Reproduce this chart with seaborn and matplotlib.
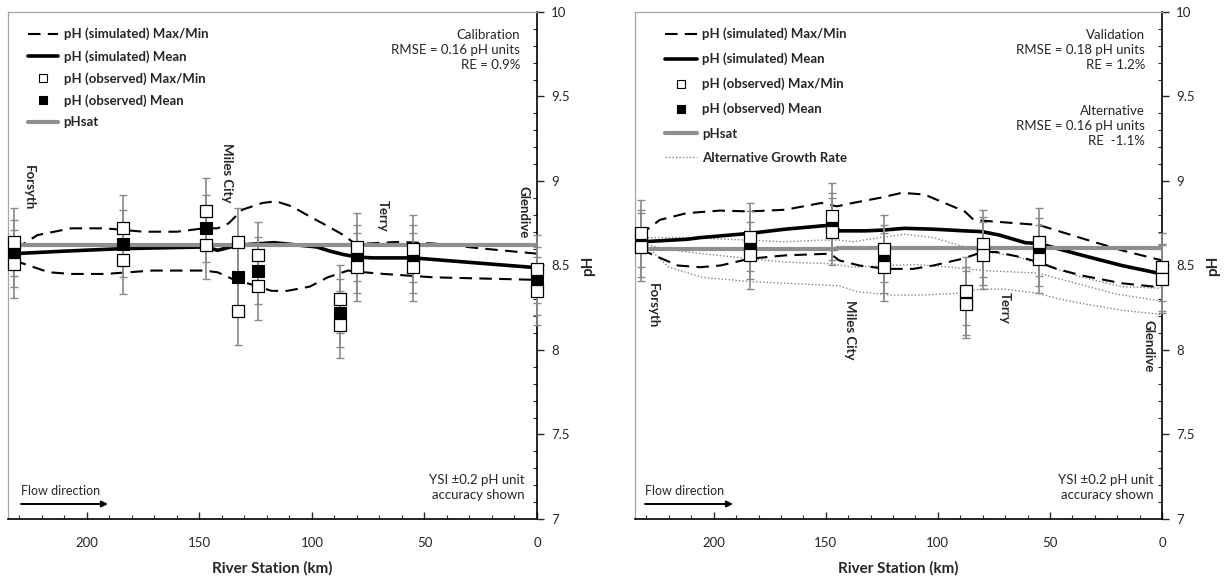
import numpy as np
import pandas as pd
import matplotlib
matplotlib.use("Agg")
import matplotlib.pyplot as plt
from matplotlib.lines import Line2D
from matplotlib.ticker import MultipleLocator, FuncFormatter
import seaborn as sns

sns.set_style("white")
plt.rcParams['font.family'] = ['Lato', 'DejaVu Sans']

# ---------------- Calibration panel data ----------------
cal_mean_km = [232.5, 210, 184, 165, 147, 142, 133, 117, 98, 92, 86, 80, 73, 55, 3, 0]
cal_mean_ph = [8.57, 8.585, 8.60, 8.605, 8.61, 8.59, 8.62, 8.635, 8.61, 8.585, 8.565, 8.55, 8.545, 8.545, 8.49, 8.49]

cal_max_km = [232.5, 228, 222, 207, 192, 175, 160, 148, 142, 137, 131, 122, 116, 109, 101, 94, 86, 81, 75.7, 61, 46, 24, 0]
cal_max_ph = [8.61, 8.63, 8.68, 8.72, 8.72, 8.70, 8.70, 8.72, 8.72, 8.75, 8.83, 8.87, 8.88, 8.85, 8.79, 8.74, 8.68, 8.63, 8.63, 8.64, 8.63, 8.60, 8.57]

cal_min_km = [232.5, 228, 217, 207, 192, 171, 148, 142, 134.5, 126, 118, 111, 101, 93, 84, 77, 68, 46, 0]
cal_min_ph = [8.53, 8.51, 8.46, 8.45, 8.45, 8.47, 8.47, 8.46, 8.415, 8.385, 8.35, 8.35, 8.375, 8.43, 8.47, 8.46, 8.45, 8.43, 8.415]

cal_sat_km = [235.1, 0]
cal_sat_ph = [8.62, 8.62]

cal_obs_km = [232.5, 184, 147, 133, 124, 87.6, 80, 55, 0]
cal_obs_max = [8.64, 8.72, 8.82, 8.64, 8.56, 8.30, 8.61, 8.60, 8.48]
cal_obs_mean = [8.57, 8.63, 8.72, 8.43, 8.47, 8.22, 8.54, 8.54, 8.41]
cal_obs_min = [8.51, 8.53, 8.62, 8.23, 8.38, 8.15, 8.49, 8.49, 8.35]

# ---------------- Validation panel data ----------------
val_mean_km = [232.5, 212, 206, 184, 168, 147, 144, 132, 124, 115, 102, 88, 80, 72.6, 61, 55, 35.5, 18, 0]
val_mean_ph = [8.64, 8.655, 8.665, 8.69, 8.715, 8.74, 8.705, 8.705, 8.71, 8.72, 8.715, 8.705, 8.70, 8.68, 8.635, 8.63, 8.56, 8.50, 8.45]

val_max_km = [232.5, 230, 224, 212, 197, 184, 168, 152, 145, 138, 126, 116, 106, 97, 88, 84, 80, 65, 55, 35.5, 18, 0]
val_max_ph = [8.67, 8.71, 8.77, 8.81, 8.825, 8.82, 8.83, 8.87, 8.85, 8.87, 8.90, 8.93, 8.92, 8.87, 8.82, 8.77, 8.765, 8.75, 8.74, 8.66, 8.59, 8.53]

val_min_km = [232.5, 230, 216, 206, 197, 184, 168, 148, 144, 135, 123, 111, 102, 89, 80, 74, 65, 55, 47, 35.5, 18, 0]
val_min_ph = [8.60, 8.58, 8.50, 8.49, 8.50, 8.54, 8.56, 8.57, 8.53, 8.50, 8.48, 8.48, 8.50, 8.54, 8.58, 8.58, 8.555, 8.52, 8.48, 8.44, 8.395, 8.37]

alt_up_km = [232.5, 212, 184, 168, 152, 144, 138, 126, 115, 102, 88, 78, 65, 55, 35.5, 18, 0]
alt_up_ph = [8.665, 8.665, 8.65, 8.64, 8.65, 8.65, 8.64, 8.665, 8.685, 8.665, 8.61, 8.58, 8.555, 8.51, 8.43, 8.375, 8.365]

alt_mid_km = [232.5, 222, 212, 184, 168, 147, 138, 123, 109, 94, 80, 55, 40, 20, 0]
alt_mid_ph = [8.63, 8.60, 8.58, 8.54, 8.52, 8.51, 8.49, 8.50, 8.505, 8.49, 8.47, 8.455, 8.40, 8.33, 8.29]

alt_low_km = [232.5, 228, 220, 205, 184, 168, 144, 136, 121, 107, 92, 81, 70, 55, 47, 35.5, 18, 0]
alt_low_ph = [8.62, 8.59, 8.49, 8.43, 8.405, 8.395, 8.38, 8.345, 8.325, 8.325, 8.335, 8.36, 8.36, 8.335, 8.305, 8.275, 8.235, 8.21]

val_sat_km = [235.1, 145, 145, 0]
val_sat_ph = [8.597, 8.597, 8.603, 8.603]

val_obs_km = [232.5, 184, 147, 124, 87.5, 80, 55, 0]
val_obs_max = [8.69, 8.67, 8.79, 8.60, 8.35, 8.63, 8.64, 8.49]
val_obs_mean = [8.63, 8.62, 8.73, 8.54, 8.29, 8.585, 8.58, 8.43]
val_obs_min = [8.61, 8.56, 8.70, 8.49, 8.27, 8.56, 8.54, 8.42]

ysi_accuracy = 0.2

cal_stations = [("Forsyth", 226, 9.095, 'top'), ("Miles City", 137.8, 9.225, 'top'),
                ("Terry", 68.4, 8.70, 'bottom'), ("Glendive", 6.2, 8.663, 'bottom')]
val_stations = [("Forsyth", 227, 8.396, 'top'), ("Miles City", 139, 8.296, 'top'),
                ("Terry", 70, 8.343, 'top'), ("Glendive", 5.8, 8.178, 'top')]

DASH = (0, (6, 3.5))
DOT = (0, (1, 1.5))
SAT_COLOR = '#8f8f8f'
ERR_COLOR = '#8a8a8a'
ALT_COLOR = '#858585'
FS = 9.5

W, H = 1225, 581
fig = plt.figure(figsize=(W / 100, H / 100), dpi=100)
axL = fig.add_axes([8 / W, 1 - 519 / H, (537 - 8) / W, (519 - 12) / H])
axR = fig.add_axes([635 / W, 1 - 519 / H, (1162 - 635) / W, (519 - 12) / H])


def line(ax, km, ph, **kw):
    df = pd.DataFrame({"km": km, "ph": ph})
    sns.lineplot(data=df, x="km", y="ph", ax=ax, sort=False, estimator=None, **kw)


def observed(ax, km, vmax, vmean, vmin):
    for vals in (vmax, vmean, vmin):
        ax.errorbar(km, vals, yerr=ysi_accuracy, fmt='none', ecolor=ERR_COLOR,
                    elinewidth=1.2, capsize=3, capthick=1.0, zorder=4, clip_on=False)
    sns.scatterplot(x=km, y=vmean, ax=ax, marker='s', s=85, color='black',
                    edgecolor='black', linewidth=0.8, zorder=5, clip_on=False)
    for vals in (vmax, vmin):
        sns.scatterplot(x=km, y=vals, ax=ax, marker='s', s=85, color='white',
                        edgecolor='black', linewidth=0.9, zorder=6, clip_on=False)


def style_axes(ax, ylab_x):
    ax.set_xlim(235.1, 0)
    ax.set_ylim(7, 10)
    ax.yaxis.tick_right()
    ax.xaxis.set_major_locator(MultipleLocator(50))
    ax.xaxis.set_minor_locator(MultipleLocator(10))
    ax.yaxis.set_major_locator(MultipleLocator(0.5))
    ax.yaxis.set_minor_locator(MultipleLocator(0.1))
    ax.yaxis.set_major_formatter(FuncFormatter(lambda v, p: f"{v:g}"))
    ax.tick_params(axis='x', which='major', direction='in', length=5, width=1,
                   labelsize=FS, pad=13, bottom=True)
    ax.tick_params(axis='x', which='minor', direction='in', length=3, width=0.8, bottom=True)
    ax.tick_params(axis='y', which='major', direction='out', length=5, width=1,
                   labelsize=FS, pad=5, right=True, left=False)
    ax.tick_params(axis='y', which='minor', direction='in', length=3, width=0.8,
                   right=True, left=False)
    for s in ('left', 'top'):
        ax.spines[s].set_color('#a6a6a6')
        ax.spines[s].set_linewidth(0.9)
    for s in ('right', 'bottom'):
        ax.spines[s].set_color('black')
        ax.spines[s].set_linewidth(1.2)
    ax.set_xlabel("River Station (km)", fontsize=11, fontweight='bold')
    ax.xaxis.set_label_coords(0.5, -0.0966)
    ax.xaxis.label.set_va('center')
    ax.yaxis.set_label_position('right')
    ax.set_ylabel("pH", fontsize=11, fontweight='bold', rotation=90)
    ax.yaxis.set_label_coords(ylab_x, 0.5)
    ax.yaxis.label.set_va('center')
    ax.yaxis.label.set_ha('center')
    ax.grid(False)


def stations(ax, items):
    for name, km, ph, va in items:
        ax.text(km, ph, name, rotation=270, ha='center', va=va, fontsize=FS,
                fontweight='bold', zorder=7)


def flow(ax, x0, x1):
    ax.text(x0, 0.055, "Flow direction", transform=ax.transAxes, ha='left',
            va='center', fontsize=FS - 0.5)
    ax.annotate('', xy=(x1, 0.0296), xytext=(x0, 0.0296), xycoords='axes fraction',
                arrowprops=dict(arrowstyle='-|>', color='black', lw=1.4,
                                mutation_scale=9, shrinkA=0, shrinkB=0))


# ---------------- Left: calibration ----------------
line(axL, cal_max_km, cal_max_ph, color='black', lw=1.5, linestyle=DASH, zorder=2)
line(axL, cal_min_km, cal_min_ph, color='black', lw=1.5, linestyle=DASH, zorder=2)
line(axL, cal_mean_km, cal_mean_ph, color='black', lw=2.6, zorder=2)
line(axL, cal_sat_km, cal_sat_ph, color=SAT_COLOR, lw=3.0, zorder=3)
observed(axL, cal_obs_km, cal_obs_max, cal_obs_mean, cal_obs_min)
style_axes(axL, 1.096)
stations(axL, cal_stations)
flow(axL, 0.0246, 0.189)
axL.text(0.968, 0.925, "Calibration\nRMSE = 0.16 pH units\nRE = 0.9%", transform=axL.transAxes,
         ha='right', va='center', multialignment='right', linespacing=1.3, fontsize=FS)
axL.text(0.977, 0.062, "YSI \u00b10.2 pH unit\naccuracy shown", transform=axL.transAxes,
         ha='right', va='center', multialignment='right', linespacing=1.3, fontsize=FS)

legL_handles = [
    Line2D([], [], color='black', lw=1.5, linestyle=DASH),
    Line2D([], [], color='black', lw=2.6),
    Line2D([], [], marker='s', ls='none', mfc='white', mec='black', ms=6, mew=0.8),
    Line2D([], [], marker='s', ls='none', mfc='black', mec='black', ms=6, mew=0.8),
    Line2D([], [], color=SAT_COLOR, lw=3.0),
]
legL_labels = ["pH (simulated) Max/Min", "pH (simulated) Mean", "pH (observed) Max/Min",
               "pH (observed) Mean", "pHsat"]
axL.legend(legL_handles, legL_labels, loc='upper left', bbox_to_anchor=(0.038, 0.969),
           frameon=False, prop={'weight': 'bold', 'size': 9.5}, handlelength=2.3,
           handletextpad=0.4, labelspacing=0.72, borderaxespad=0, borderpad=0)

# ---------------- Right: validation ----------------
line(axR, alt_up_km, alt_up_ph, color=ALT_COLOR, lw=1.0, linestyle=DOT, zorder=2)
line(axR, alt_mid_km, alt_mid_ph, color=ALT_COLOR, lw=1.0, linestyle=DOT, zorder=2)
line(axR, alt_low_km, alt_low_ph, color=ALT_COLOR, lw=1.0, linestyle=DOT, zorder=2)
line(axR, val_max_km, val_max_ph, color='black', lw=1.5, linestyle=DASH, zorder=2)
line(axR, val_min_km, val_min_ph, color='black', lw=1.5, linestyle=DASH, zorder=2)
line(axR, val_mean_km, val_mean_ph, color='black', lw=2.6, zorder=2)
line(axR, val_sat_km, val_sat_ph, color=SAT_COLOR, lw=3.0, zorder=3)
observed(axR, val_obs_km, val_obs_max, val_obs_mean, val_obs_min)
style_axes(axR, 1.097)
stations(axR, val_stations)
flow(axR, 0.019, 0.186)
axR.text(0.968, 0.925, "Validation\nRMSE = 0.18 pH units\nRE = 1.2%", transform=axR.transAxes,
         ha='right', va='center', multialignment='right', linespacing=1.3, fontsize=FS)
axR.text(0.968, 0.775, "Alternative\nRMSE = 0.16 pH units\nRE  -1.1%", transform=axR.transAxes,
         ha='right', va='center', multialignment='right', linespacing=1.3, fontsize=FS)
axR.text(0.985, 0.062, "YSI \u00b10.2 pH unit\naccuracy shown", transform=axR.transAxes,
         ha='right', va='center', multialignment='right', linespacing=1.3, fontsize=FS)

legR_handles = legL_handles + [Line2D([], [], color=ALT_COLOR, lw=1.0, linestyle=DOT)]
legR_labels = legL_labels + ["Alternative Growth Rate"]
axR.legend(legR_handles, legR_labels, loc='upper left', bbox_to_anchor=(0.057, 0.969),
           frameon=False, prop={'weight': 'bold', 'size': 9.5}, handlelength=2.4,
           handletextpad=0.4, labelspacing=0.93, borderaxespad=0, borderpad=0)

fig.savefig("out.png", dpi=100)
